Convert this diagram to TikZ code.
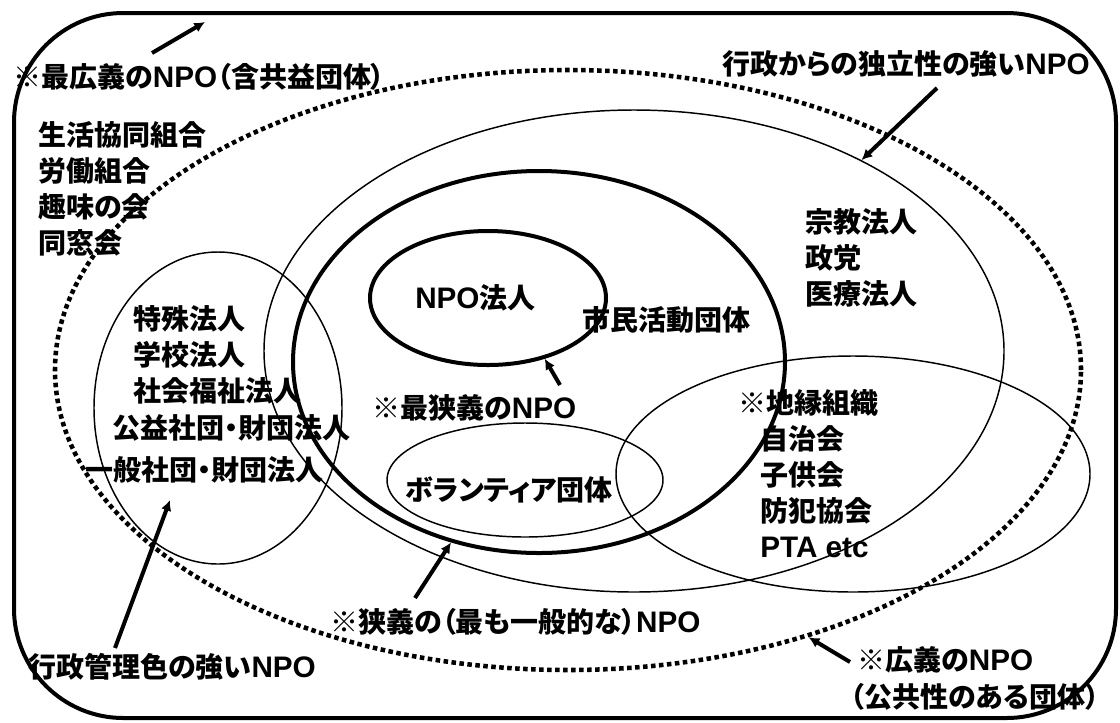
\documentclass[tikz,border=0pt]{standalone}
\usepackage{fontspec}
\setmainfont{Noto Sans CJK JP}[UprightFont=* Black, RawFeature=+palt]
\newfontfamily\latinfont{Liberation Sans}[UprightFont=* Bold, Scale=1.06]
\newcommand\lat[1]{{\latinfont #1}}
\usetikzlibrary{arrows.meta,shapes.geometric}

\begin{document}
\begin{tikzpicture}[x=0.75pt,y=-0.75pt,
                    ring/.style={ellipse,draw,inner sep=0pt,line width=1.1pt},
                    bold ring/.style={ring,line width=3pt},
                    dotted ring/.style={ring,line width=3.4pt,dash pattern=on 3.4pt off 2.6pt},
                    label/.style={anchor=west,inner sep=0pt,align=left,font=\fontsize{21}{27}\selectfont},
                    pointer/.style={line width=3pt,-{Latex[length=8pt,width=8pt]}}]

  \useasboundingbox (0,0) rectangle (1120,722);

  % frame and circles
  \node[draw,line width=3pt,rounded corners=82pt,minimum width=826.5pt,minimum height=528.75pt] (frame) at (565,365.5) {};
  \node[dotted ring,minimum width=769.5pt,minimum height=450pt] (wide) at (568,370) {};
  \node[ring,minimum width=555pt,minimum height=361.5pt] (indep) at (634,351) {};
  \node[bold ring,minimum width=369pt,minimum height=286.5pt] (narrow) at (539,362) {};
  \node[bold ring,minimum width=177pt,minimum height=100.5pt] (npo) at (488,298) {};
  \node[ring,minimum width=186pt,minimum height=234pt] (admin) at (218,408) {};
  \node[ring,minimum width=207pt,minimum height=85.5pt] (vol) at (525,480) {};
  \node[ring,minimum width=355.5pt,minimum height=177pt] (chien) at (853,474) {};

  % texts
  \node[label] (widelbl) at (13,77) {※最広義の\lat{NPO}（含共益団体）};
  \node[label] (indeplbl) at (722,64) {行政からの独立性の強い\lat{NPO}};
  \node[label] (mutual) at (38,189) {生活協同組合\\労働組合\\趣味の会\\同窓会};
  \node[label] (indepgrp) at (805,258) {宗教法人\\政党\\医療法人};
  \node[label] (admgrp) at (133,355) {特殊法人\\学校法人\\社会福祉法人};
  \node[label] (koueki) at (112,428) {公益社団・財団法人};
  \node[label] (ippan) at (85,470) {一般社団・財団法人};
  \node[label] (npolbl) at (415,298) {\lat{NPO}法人};
  \node[label] (civic) at (582,320) {市民活動団体};
  \node[label] (narrowest) at (372,408) {※最狭義の\lat{NPO}};
  \node[label] (vollbl) at (405,490) {ボランティア団体};
  \node[label] (chienlbl) at (738,403) {※地縁組織};
  \node[label] (chiengrp) at (760,492) {自治会\\子供会\\防犯協会\\\lat{PTA etc}};
  \node[label] (narrowlbl) at (330,622) {※狭義の（最も一般的な）\lat{NPO}};
  \node[label] (adminlbl) at (28,667) {行政管理色の強い\lat{NPO}};
  \node[label] (publbl) at (857,660) {※広義の\lat{NPO}};
  \node[label] (publbl2) at (850,697) {（公共性のある団体）};

  % arrows
  \coordinate (t1) at (152,53);
  \coordinate (h1) at (205,22);
  \coordinate (t2) at (937,88);
  \coordinate (t3) at (560,385);
  \coordinate (t4) at (415,598);
  \coordinate (t5) at (115,648);
  \coordinate (h5) at (170,500);
  \coordinate (t6) at (850,662);

  \path[pointer]
    (t1) edge (h1)
    (t2) edge (indep.40.6)
    (t3) edge (npo.-47)
    (t4) edge (narrow.-116)
    (t5) edge (h5)
    (t6) edge (wide.-48);
\end{tikzpicture}
\end{document}
